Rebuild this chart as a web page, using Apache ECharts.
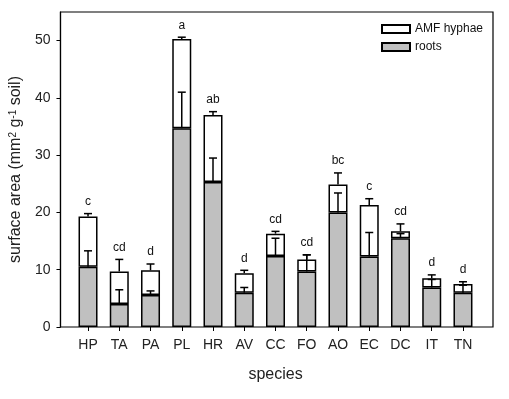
<!DOCTYPE html>
<html>
<head>
<meta charset="utf-8">
<script src="https://cdn.jsdelivr.net/npm/echarts@6/dist/echarts.min.js"></script>
<style>
  html, body { margin: 0; padding: 0; background: #fff; }
  #chart { width: 509px; height: 399px; }
</style>
</head>
<body>
<div id="chart"></div>
<script>
var species = ['HP', 'TA', 'PA', 'PL', 'HR', 'AV', 'CC', 'FO', 'AO', 'EC', 'DC', 'IT', 'TN'];
var roots   = [10.5, 4.0, 5.6, 34.7, 25.3, 6.0, 12.4, 9.7, 20.0, 12.3, 15.5, 6.9, 6.0];
var hyphae  = [8.8, 5.7, 4.3, 15.6, 11.7, 3.4, 3.9, 2.1, 4.9, 9.0, 1.2, 1.6, 1.5];
var rootsSE = [2.8, 2.5, 0.7, 6.3, 4.2, 0.9, 3.1, 2.9, 3.4, 4.2, 0.8, 1.4, 1.3];
var totalSE = [0.5, 2.1, 1.1, 0.3, 0.6, 0.5, 0.4, 0.8, 2.0, 1.1, 1.3, 0.6, 0.4];
var letters = ['c', 'cd', 'd', 'a', 'ab', 'd', 'cd', 'cd', 'bc', 'c', 'cd', 'd', 'd'];
var yTicks  = [0, 10, 20, 30, 40, 50];

var font = "'Liberation Sans', Arial, sans-serif";
var myChart = echarts.init(document.getElementById('chart'));

// error bar data: [index, bar top, error top]
var rootsErrData = species.map(function (s, i) {
    return [i, roots[i], roots[i] + rootsSE[i]];
});
var totalErrData = species.map(function (s, i) {
    var top = roots[i] + hyphae[i];
    return [i, top, top + totalSE[i]];
});

function renderErr(params, api) {
    var p0 = api.coord([api.value(0), api.value(1)]);
    var p1 = api.coord([api.value(0), api.value(2)]);
    var st = { stroke: '#000', lineWidth: 1.5 };
    return {
        type: 'group',
        children: [
            { type: 'line', shape: { x1: p0[0], y1: p0[1], x2: p1[0], y2: p1[1] }, style: st },
            { type: 'line', shape: { x1: p1[0] - 4, y1: p1[1], x2: p1[0] + 4, y2: p1[1] }, style: st }
        ]
    };
}

function renderLetter(params, api) {
    var p = api.coord([api.value(0), api.value(2)]);
    return {
        type: 'text',
        style: {
            text: letters[params.dataIndex],
            x: p[0],
            y: p[1] - 6,
            align: 'center',
            verticalAlign: 'bottom',
            fontSize: 12,
            fontFamily: font,
            fill: '#111'
        }
    };
}

var option = {
    animation: false,
    grid: [
        { left: 58, top: 12, width: 435, height: 315, show: true, borderColor: '#000', borderWidth: 1.2, backgroundColor: 'transparent' },
        { left: 72.4, top: 12, width: 406.2, height: 315 }
    ],
    legend: {
        orient: 'vertical',
        left: 376,
        top: 18,
        itemWidth: 28,
        itemHeight: 8,
        itemGap: 6,
        icon: 'rect',
        data: ['AMF hyphae', 'roots'],
        textStyle: { fontSize: 12, fontFamily: font, color: '#111' }
    },
    xAxis: [
        { type: 'value', gridIndex: 0, show: false },
        {
            type: 'category',
            gridIndex: 1,
            data: species,
            axisLine: { show: false },
            axisTick: { show: true, alignWithLabel: true, length: 4, lineStyle: { color: '#000', width: 1 } },
            axisLabel: { fontSize: 14, fontFamily: font, color: '#222', margin: 11, interval: 0 },
            name: 'species',
            nameLocation: 'middle',
            nameGap: 40,
            nameTextStyle: { fontSize: 16, fontFamily: font, color: '#222' }
        }
    ],
    yAxis: [
        {
            type: 'value',
            gridIndex: 0,
            min: 0,
            max: 55,
            axisLine: { show: true, lineStyle: { color: '#000', width: 1.2 } },
            axisTick: { show: true, length: 4, customValues: yTicks, lineStyle: { color: '#000' } },
            axisLabel: { customValues: yTicks, fontSize: 14, fontFamily: font, color: '#222', margin: 10 },
            splitLine: { show: false },
            name: 'surface area (mm{sup|2} g{sup|-1} soil)',
            nameLocation: 'middle',
            nameGap: 35,
            nameRotate: 90,
            nameTextStyle: {
                fontSize: 16,
                fontFamily: font,
                color: '#222',
                rich: {
                    sup: { fontSize: 10, fontFamily: font, color: '#222', verticalAlign: 'top', lineHeight: 16 }
                }
            }
        },
        { type: 'value', gridIndex: 1, min: 0, max: 55, show: false }
    ],
    series: [
        {
            name: 'roots',
            type: 'bar',
            xAxisIndex: 1,
            yAxisIndex: 1,
            stack: 'total',
            barWidth: 19,
            data: roots,
            itemStyle: { color: '#c0c0c0', borderColor: '#000', borderWidth: 1.5 }
        },
        {
            name: 'AMF hyphae',
            type: 'bar',
            xAxisIndex: 1,
            yAxisIndex: 1,
            stack: 'total',
            barWidth: 19,
            data: hyphae,
            itemStyle: { color: '#fff', borderColor: '#000', borderWidth: 1.5 }
        },
        {
            type: 'custom',
            xAxisIndex: 1,
            yAxisIndex: 1,
            renderItem: renderErr,
            data: rootsErrData,
            z: 5
        },
        {
            type: 'custom',
            xAxisIndex: 1,
            yAxisIndex: 1,
            renderItem: renderErr,
            data: totalErrData,
            z: 5
        },
        {
            type: 'custom',
            xAxisIndex: 1,
            yAxisIndex: 1,
            renderItem: renderLetter,
            data: totalErrData,
            z: 5
        }
    ]
};
myChart.setOption(option);
</script>
</body>
</html>
